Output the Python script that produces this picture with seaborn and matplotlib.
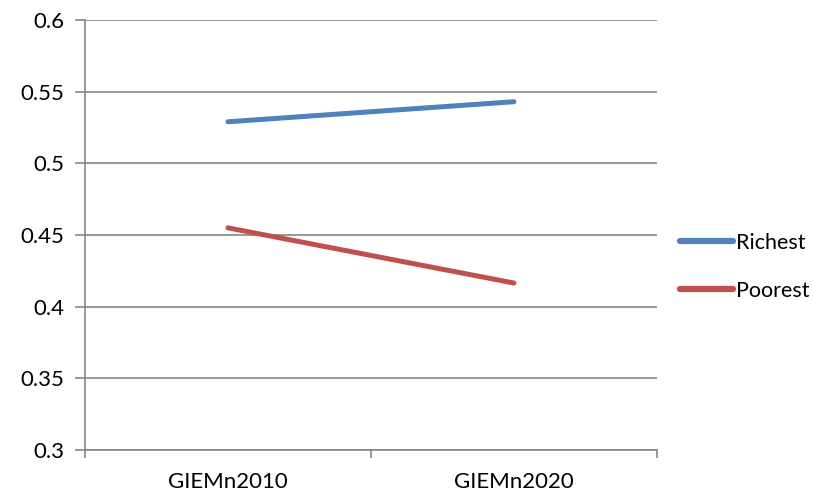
import matplotlib
matplotlib.use("Agg")
import matplotlib.pyplot as plt
import pandas as pd
import seaborn as sns
from matplotlib.ticker import FixedLocator

categories = ["GIEMn2010", "GIEMn2020"]
richest = [0.529, 0.543]
poorest = [0.455, 0.4165]
series_names = ["Richest", "Poorest"]
y_ticks = [0.3, 0.35, 0.4, 0.45, 0.5, 0.55, 0.6]

sns.set_style("white")
plt.rcParams["font.family"] = ["Lato", "DejaVu Sans"]
plt.rcParams["text.color"] = "black"
plt.rcParams["xtick.color"] = "black"
plt.rcParams["ytick.color"] = "black"

df = pd.DataFrame({
    "period": categories * 2,
    "value": richest + poorest,
    "group": [series_names[0]] * 2 + [series_names[1]] * 2,
})

GRID = "#868686"
fig = plt.figure(figsize=(8.13, 4.94), dpi=100)
ax = fig.add_axes([0.1046, 0.089, 0.7034, 0.8705])

sns.lineplot(data=df, x="period", y="value", hue="group",
             palette=["#4F81BD", "#C0504D"], linewidth=3.6, ax=ax,
             solid_capstyle="round", legend=True)

ax.set_ylim(0.3, 0.6)
ax.set_yticks(y_ticks)
ax.set_yticklabels([f"{v:g}" for v in y_ticks])
ax.set_xlim(-0.5, 1.5)
ax.xaxis.set_major_locator(FixedLocator([-0.5, 0.5, 1.5]))
ax.xaxis.set_minor_locator(FixedLocator([0, 1]))
ax.set_xticklabels(["", "", ""])
ax.set_xticklabels(categories, minor=True)
ax.tick_params(axis="x", which="major", bottom=True, length=6, color=GRID, width=1.2,
               direction="out")
ax.tick_params(axis="x", which="minor", bottom=True, length=0, pad=16, labelsize=16,
               labelcolor="black")
ax.tick_params(axis="y", left=True, length=7, color=GRID, width=1.2, direction="out",
               labelsize=16, pad=8, labelcolor="black")
ax.yaxis.grid(True, color=GRID, linewidth=1.2)
ax.set_axisbelow(True)
ax.set_xlabel("")
ax.set_ylabel("")

for side in ["top", "right"]:
    ax.spines[side].set_visible(False)
for side in ["left", "bottom"]:
    ax.spines[side].set_color(GRID)
    ax.spines[side].set_linewidth(1.2)

leg = ax.legend(title=None, frameon=False, loc="center left",
                bbox_to_anchor=(0.812, 0.46), bbox_transform=fig.transFigure,
                fontsize=15.5, handlelength=2.5, handletextpad=0.1, labelspacing=1.3)
for line in leg.get_lines():
    line.set_linewidth(4.5)
for t in leg.get_texts():
    t.set_color("black")

fig.savefig("out.png", dpi=100)
